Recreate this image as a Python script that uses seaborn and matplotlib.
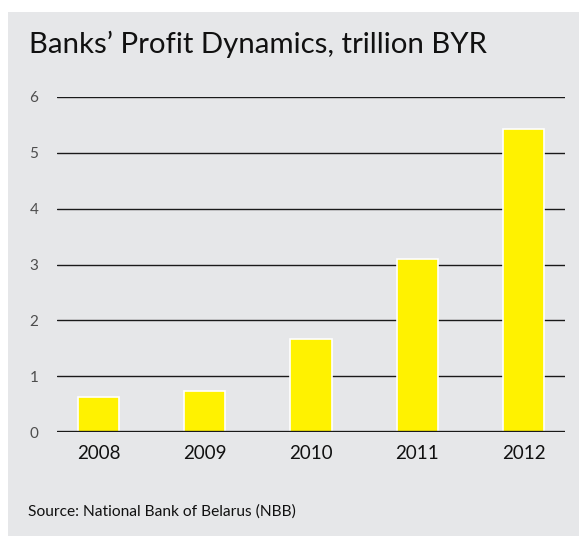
import matplotlib
matplotlib.use("Agg")
import matplotlib.pyplot as plt
import seaborn as sns
import pandas as pd
from matplotlib.patches import Rectangle

# Banks' profit by year, trillion BYR
years = ["2008", "2009", "2010", "2011", "2012"]
profit = [0.63, 0.73, 1.67, 3.09, 5.43]
y_ticks = [0, 1, 2, 3, 4, 5, 6]

df = pd.DataFrame({"year": years, "profit": profit})

sns.set_theme(style="white")
plt.rcParams["font.family"] = ["Lato", "DejaVu Sans"]

W, H = 579, 536
fig = plt.figure(figsize=(W / 100, H / 100), dpi=100)
fig.patch.set_facecolor("white")

panel = "#E6E7E9"
fig.patches.append(Rectangle((8 / W, 0), 1 - 8 / W, 1 - 12 / H,
                             transform=fig.transFigure, facecolor=panel,
                             edgecolor="none", zorder=-5))

ax = fig.add_axes([57 / W, (H - 432) / H, (565 - 57) / W, (432 - 97) / H])
ax.patch.set_alpha(0)

sns.barplot(data=df, x="year", y="profit", ax=ax, color="#FFF200",
            saturation=1, width=0.39, edgecolor="white", linewidth=1.2,
            zorder=3)

ax.set_ylim(0, 6)
ax.set_xlim(-0.39, 4.39)
ax.set_yticks(y_ticks)
ax.set_yticklabels([str(t) for t in y_ticks])
for t in y_ticks[1:]:
    ax.axhline(t, color="#1a1a1a", linewidth=1.0, zorder=1)
ax.axhline(0, color="#1a1a1a", linewidth=2.4, zorder=4)

for s in ax.spines.values():
    s.set_visible(False)
ax.set_xlabel("")
ax.set_ylabel("")
ax.tick_params(axis="y", length=0, pad=13.5, labelsize=11, labelcolor="#4d4d4d")
ax.tick_params(axis="x", length=0, pad=9.5, labelsize=13.5, labelcolor="#111111")

fig.text(29 / W, 1 - 44 / H, "Banks’ Profit Dynamics, trillion BYR",
         fontsize=21.2, color="#111111", va="center", ha="left")
fig.text(28 / W, 1 - 512 / H, "Source: National Bank of Belarus (NBB)",
         fontsize=11.2, color="#111111", va="center", ha="left")

fig.savefig("out.png", dpi=100)
